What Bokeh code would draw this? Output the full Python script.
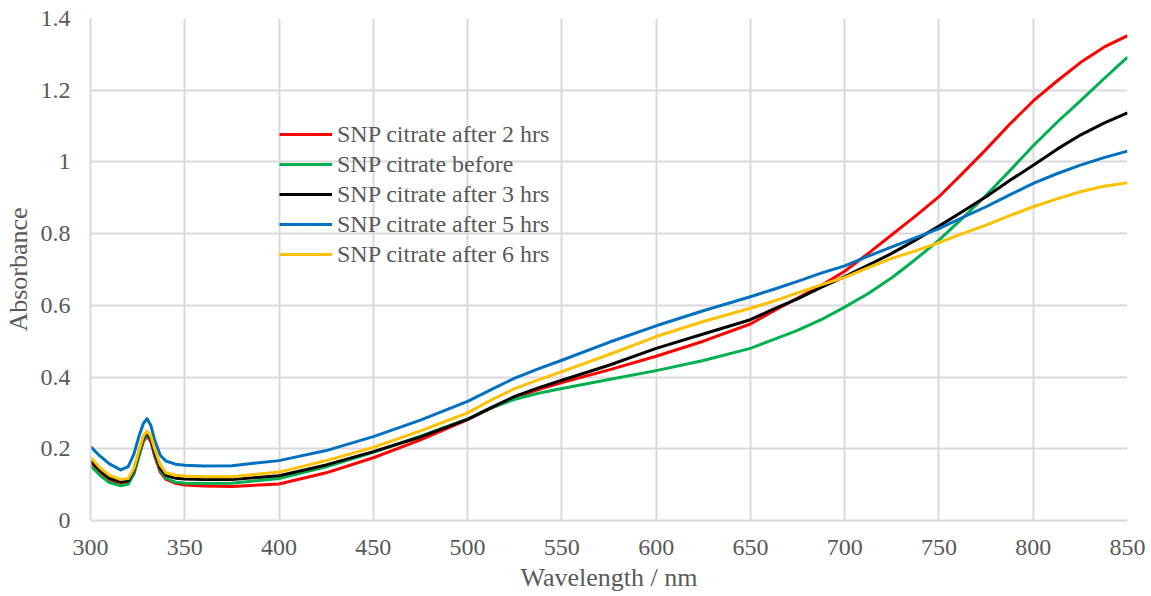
from bokeh.plotting import figure
from bokeh.models import Range1d, FixedTicker, CustomJSTickFormatter, Legend, LegendItem
from bokeh.embed import file_html
from bokeh.resources import INLINE

wavelength = [300, 305, 310, 316, 320, 323, 326, 328, 330, 332, 334, 337, 340, 345, 350, 360, 375,
              400, 425, 450, 475, 500, 512.5, 525, 537.5, 550, 575, 600, 625, 650,
              662.5, 675, 687.5, 700, 712.5, 725, 737.5, 750, 762.5, 775, 787.5, 800, 812.5, 825, 837.5, 850]

red = [0.160, 0.133, 0.113, 0.100, 0.104, 0.130, 0.185, 0.220, 0.235, 0.220, 0.180, 0.135, 0.115, 0.104, 0.099, 0.096, 0.095,
       0.102, 0.133, 0.175, 0.225, 0.281, 0.313, 0.343, 0.365, 0.385, 0.420, 0.458, 0.500, 0.548,
       0.585, 0.620, 0.655, 0.695, 0.745, 0.797, 0.849, 0.903, 0.968, 1.035, 1.105, 1.170, 1.225, 1.277, 1.320, 1.352]
green = [0.153, 0.126, 0.106, 0.097, 0.101, 0.130, 0.185, 0.222, 0.240, 0.225, 0.185, 0.140, 0.118, 0.107, 0.104, 0.103, 0.104,
         0.117, 0.150, 0.190, 0.235, 0.283, 0.314, 0.338, 0.355, 0.368, 0.393, 0.418, 0.446, 0.480,
         0.505, 0.530, 0.560, 0.595, 0.633, 0.677, 0.728, 0.782, 0.843, 0.907, 0.975, 1.045, 1.110, 1.170, 1.232, 1.292]
black = [0.168, 0.140, 0.118, 0.108, 0.111, 0.140, 0.195, 0.230, 0.244, 0.228, 0.190, 0.145, 0.126, 0.118, 0.116, 0.114, 0.114,
         0.125, 0.155, 0.192, 0.233, 0.282, 0.315, 0.346, 0.370, 0.391, 0.433, 0.480, 0.520, 0.560,
         0.590, 0.618, 0.650, 0.680, 0.712, 0.745, 0.782, 0.821, 0.862, 0.903, 0.948, 0.991, 1.035, 1.075, 1.108, 1.137]
blue = [0.206, 0.180, 0.158, 0.141, 0.150, 0.185, 0.240, 0.270, 0.284, 0.265, 0.225, 0.182, 0.166, 0.157, 0.154, 0.152, 0.153,
        0.167, 0.195, 0.234, 0.280, 0.332, 0.365, 0.397, 0.423, 0.447, 0.497, 0.543, 0.585, 0.624,
        0.645, 0.667, 0.690, 0.710, 0.737, 0.763, 0.788, 0.814, 0.845, 0.875, 0.908, 0.940, 0.967, 0.991, 1.012, 1.030]
yellow = [0.176, 0.147, 0.126, 0.114, 0.117, 0.145, 0.200, 0.235, 0.249, 0.235, 0.200, 0.155, 0.133, 0.126, 0.124, 0.122, 0.122,
          0.135, 0.167, 0.204, 0.250, 0.300, 0.336, 0.368, 0.392, 0.415, 0.463, 0.513, 0.555, 0.592,
          0.612, 0.635, 0.657, 0.678, 0.705, 0.731, 0.752, 0.775, 0.800, 0.824, 0.850, 0.875, 0.897, 0.917, 0.932, 0.942]

series_names = ["SNP citrate after 2 hrs", "SNP citrate before", "SNP citrate after 3 hrs",
                "SNP citrate after 5 hrs", "SNP citrate after 6 hrs"]
series_values = [red, green, black, blue, yellow]
series_colors = ["#ff0000", "#00b050", "#000000", "#0070c0", "#ffc000"]

x_ticks = [300, 350, 400, 450, 500, 550, 600, 650, 700, 750, 800, 850]
y_ticks = [0, 0.2, 0.4, 0.6, 0.8, 1.0, 1.2, 1.4]

FONT = "Liberation Serif"
TXT = "#595959"
GRID = "#d9d9d9"

p = figure(width=1146, height=594, output_backend="svg", toolbar_location=None,
           x_range=Range1d(300, 850), y_range=Range1d(0, 1.4),
           min_border_left=89, min_border_right=19, min_border_top=18, min_border_bottom=73)
p.outline_line_color = None
p.background_fill_color = "white"
p.border_fill_color = "white"

renderers = []
for name, vals, col in zip(series_names, series_values, series_colors):
    r = p.line(wavelength, vals, line_color=col, line_width=3, line_join="round")
    renderers.append((name, r))

for ax in (p.xaxis[0], p.yaxis[0]):
    ax.axis_line_color = GRID
    ax.axis_line_width = 2
    ax.major_tick_line_color = None
    ax.minor_tick_line_color = None
    ax.major_tick_in = 0
    ax.major_tick_out = 0
    ax.major_label_text_font = FONT
    ax.major_label_text_font_size = "24px"
    ax.major_label_text_color = TXT
    ax.axis_label_text_font = FONT
    ax.axis_label_text_font_size = "26px"
    ax.axis_label_text_font_style = "normal"
    ax.axis_label_text_color = TXT

p.xaxis.ticker = FixedTicker(ticks=x_ticks)
p.yaxis.ticker = FixedTicker(ticks=y_ticks)
p.yaxis.formatter = CustomJSTickFormatter(code="return tick.toFixed(1).replace(/\\.0$/, '');")
p.xaxis.axis_label = "Wavelength / nm"
p.yaxis.axis_label = "Absorbance"
p.xaxis.major_label_standoff = 19
p.yaxis.major_label_standoff = 20
p.xaxis.axis_label_standoff = 5
p.yaxis.axis_label_standoff = 5

p.xgrid.ticker = FixedTicker(ticks=x_ticks)
p.ygrid.ticker = FixedTicker(ticks=y_ticks)
p.grid.grid_line_color = GRID
p.grid.grid_line_width = 2

legend = Legend(items=[LegendItem(label=n, renderers=[r]) for n, r in renderers],
                location=(189, 251), orientation="vertical")
legend.background_fill_alpha = 0
legend.border_line_alpha = 0
legend.padding = 0
legend.margin = 0
legend.spacing = 0
legend.glyph_width = 53
legend.glyph_height = 30
legend.label_height = 30
legend.label_standoff = 5
legend.label_text_font = FONT
legend.label_text_font_size = "24px"
legend.label_text_color = TXT
legend.label_text_baseline = "middle"
p.add_layout(legend, "center")

open("out.html", "w").write(file_html(p, INLINE))
